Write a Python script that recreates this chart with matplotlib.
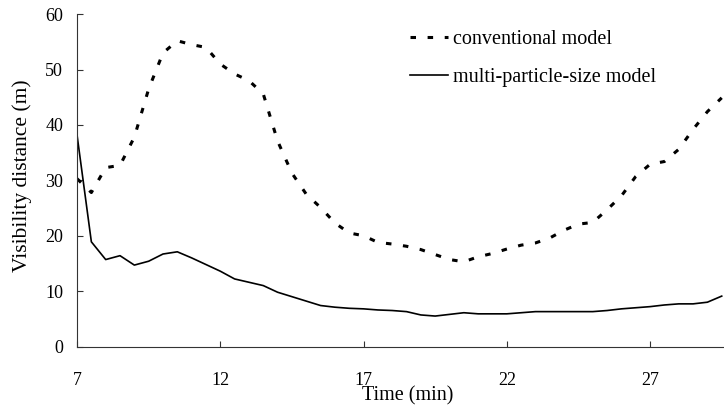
# Visibility distance over time, conventional vs multi-particle-size model
import numpy as np
import matplotlib.pyplot as plt

plt.rcParams['font.family'] = ['Liberation Serif', 'DejaVu Serif']

# time axis (min), one sample every half minute
time = np.arange(7.0, 29.51, 0.5)

# conventional model (dashed)
conventional = [30.3, 27.8, 32.3, 32.7, 37.8, 46.5, 53.0, 55.2, 54.5, 54.0,
                51.0, 49.2, 48.0, 45.6, 37.1, 31.3, 27.5, 25.1, 22.3, 20.5,
                20.0, 18.8, 18.5, 18.1, 17.5, 16.6, 15.7, 15.3, 16.2, 16.8,
                17.6, 18.3, 18.7, 19.6, 21.0, 22.1, 22.4, 24.7, 27.2, 30.7,
                32.9, 33.4, 35.6, 39.2, 42.4, 44.9]

# multi-particle-size model (solid)
multi_size = [38.2, 18.9, 15.7, 16.4, 14.7, 15.4, 16.7, 17.1, 16.0, 14.8,
              13.6, 12.2, 11.6, 11.0, 9.8, 9.0, 8.2, 7.4, 7.1, 6.9,
              6.8, 6.6, 6.5, 6.3, 5.7, 5.5, 5.8, 6.1, 5.9, 5.9,
              5.9, 6.1, 6.3, 6.3, 6.3, 6.3, 6.3, 6.5, 6.8, 7.0,
              7.2, 7.5, 7.7, 7.7, 8.0, 9.1]

xticks = [7, 12, 17, 22, 27]
yticks = [0, 10, 20, 30, 40, 50, 60]

fig = plt.figure(figsize=(7.24, 4.05), dpi=100)
ax = fig.add_axes([0.1064, 0.1444, 0.8936, 0.8206])

ax.plot(time, conventional, color='black', lw=2.2,
        linestyle=(0, (1.8, 3.8)), label='conventional model')
ax.plot(time, multi_size, color='black', lw=1.2,
        label='multi-particle-size model')

ax.set_xlim(7, 29.58)
ax.set_ylim(0, 60)
ax.set_xticks(xticks)
ax.set_yticks(yticks)

# only left and bottom axis lines, ticks pointing inward
for s in ['top', 'right']:
    ax.spines[s].set_visible(False)
for s in ['left', 'bottom']:
    ax.spines[s].set_color('#333333')
    ax.spines[s].set_linewidth(0.8)
ax.tick_params(direction='in', length=4.5, width=0.8, color='#333333',
               labelsize=13)
ax.tick_params(axis='x', pad=18)
ax.tick_params(axis='y', pad=10)

# the time label sits just under the "17" tick label, like the original
ax.set_xlabel('Time (min)', fontsize=14.5)
ax.xaxis.set_label_coords(0.5116, -0.12)
ax.set_ylabel('Visibility distance (m)', fontsize=15.5)
ax.yaxis.set_label_coords(-0.0696, 0.514)

ax.legend(loc='upper left', bbox_to_anchor=(0.5526, 0.952),
          bbox_transform=fig.transFigure, frameon=False, fontsize=14.5,
          handlelength=1.9, handletextpad=0.25, labelspacing=0.95,
          borderpad=0)

fig.savefig('out.png', dpi=100)
